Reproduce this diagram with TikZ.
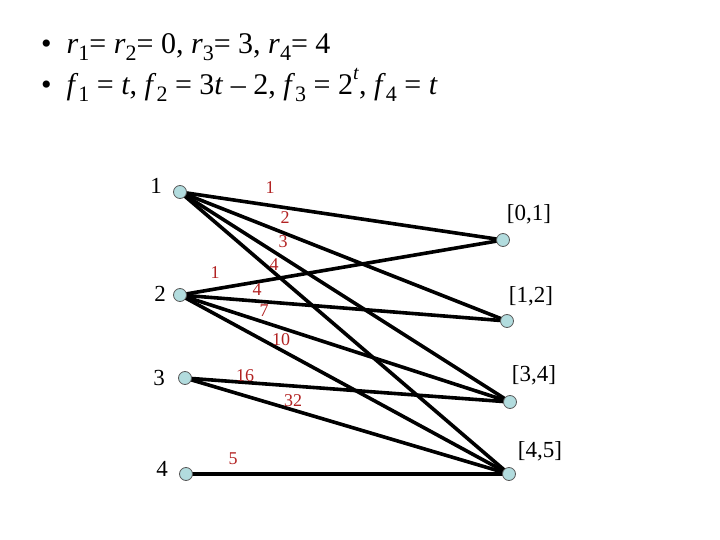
\documentclass[tikz,border=0pt]{standalone}
\usepackage{fontspec}
\setmainfont{Liberation Serif}
\definecolor{nodefill}{RGB}{178,220,222}
\definecolor{labred}{RGB}{178,34,34}
\newcommand\sbx[1]{\raisebox{-0.22em}{\fontsize{22}{22}\selectfont #1}}
\newcommand\spx[1]{\raisebox{0.5em}{\fontsize{20}{20}\selectfont #1}}
\tikzset{
  vtx/.style={circle,draw=gray!70!black,fill=nodefill,line width=0.8pt,minimum size=13pt,inner sep=0pt},
  edge/.style={line width=3.6pt,line cap=round},
  wlab/.style={text=labred,font=\fontsize{18}{18}\selectfont,inner sep=0pt},
  vlab/.style={font=\fontsize{23}{23}\selectfont,inner sep=0pt},
  ilab/.style={font=\fontsize{23}{23}\selectfont,inner sep=0pt},
  bul/.style={font=\fontsize{30}{30}\selectfont,inner sep=0pt,anchor=base west}
}
\begin{document}
\begin{tikzpicture}[x=1pt,y=-1pt]
\useasboundingbox (0,0) rectangle (720,540);
% text lines
\node[bul] (t1) at (41,54) {\textbullet\hspace{15pt}\textit{r}\sbx{1}= \textit{r}\sbx{2}= 0, \textit{r}\sbx{3}= 3, \textit{r}\sbx{4}= 4};
\node[bul] (t2) at (41,95) {\textbullet\hspace{15pt}\textit{f}\sbx{1} = \textit{t}, \textit{f}\sbx{2} = 3\textit{t} – 2, \textit{f}\sbx{3} = 2\spx{\textit{t}}, \textit{f}\sbx{4} = \textit{t}};
% vertex coordinates
\coordinate (a1) at (180,192);
\coordinate (a2) at (180,295);
\coordinate (a3) at (185,378);
\coordinate (a4) at (186,474);
\coordinate (b1) at (503,240);
\coordinate (b2) at (507,321);
\coordinate (b3) at (510,402);
\coordinate (b4) at (509,474);
% edges
\draw[edge] (a1) -- (b1);
\draw[edge] (a1) -- (b2);
\draw[edge] (a1) -- (b3);
\draw[edge] (a1) -- (b4);
\draw[edge] (a2) -- (b1);
\draw[edge] (a2) -- (b2);
\draw[edge] (a2) -- (b3);
\draw[edge] (a2) -- (b4);
\draw[edge] (a3) -- (b3);
\draw[edge] (a3) -- (b4);
\draw[edge] (a4) -- (b4);
% vertices
\foreach \v in {a1,a2,a3,a4,b1,b2,b3,b4} \node[vtx] (n\v) at (\v) {};
% vertex labels
\node[vlab] (l1) at (156,186) {1};
\node[vlab] (l2) at (160,294) {2};
\node[vlab] (l3) at (159,378) {3};
\node[vlab] (l4) at (162,469) {4};
\node[ilab] (r1) at (529,214) {[0,1]};
\node[ilab] (r2) at (531,296) {[1,2]};
\node[ilab] (r3) at (534,375) {[3,4]};
\node[ilab] (r4) at (540,451) {[4,5]};
% weights
\node[wlab] (w11) at (270,188) {1};
\node[wlab] (w12) at (285,218) {2};
\node[wlab] (w13) at (283,242) {3};
\node[wlab] (w14) at (274,265) {4};
\node[wlab] (w21) at (215,273) {1};
\node[wlab] (w22) at (257,290) {4};
\node[wlab] (w23) at (264,311) {7};
\node[wlab] (w24) at (281,340) {10};
\node[wlab] (w33) at (245,376) {16};
\node[wlab] (w34) at (293,401) {32};
\node[wlab] (w44) at (233,459) {5};
\end{tikzpicture}
\end{document}
